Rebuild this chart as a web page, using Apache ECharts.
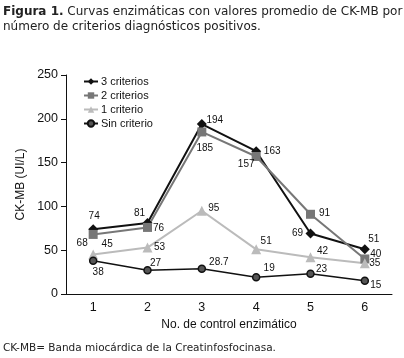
<!DOCTYPE html>
<html lang="es">
<head>
    <meta charset="UTF-8">
    <title>Curvas enzimáticas CK-MB</title>
</head>
<body style="margin:0;background:#fff;">
    <div id="main" style="width:404px;height:358px;"></div>
</body>
<script src="https://cdn.jsdelivr.net/npm/echarts@6/dist/echarts.min.js"></script>
<script>
    var main = echarts.init(document.getElementById('main'));

    // datos
    var controles = ['1', '2', '3', '4', '5', '6'];
    var tresCriterios = [74, 81, 194, 163, 69, 51];
    var dosCriterios = [68, 76, 185, 157, 91, 40];
    var unCriterio = [45, 53, 95, 51, 42, 35];
    var sinCriterio = [38, 27, 28.7, 19, 23, 15];

    // desplazamiento de cada etiqueta respecto al punto (px)
    var offTres = [[1, -13], [-8, -10], [13, -4], [16, 0], [-13, 0], [9, -10]];
    var offDos = [[-11, 9], [11, 1], [3, 16], [-10, 8], [14, -1], [11, -5]];
    var offUno = [[14, -10], [12, 0], [12, -3], [10, -8], [12, -6], [10, 0]];
    var offSin = [[5, 12], [8, -7], [17, -7], [13, -9], [11, -5], [11, 4]];

    var sans = "'Liberation Sans', Arial, sans-serif";

    function conEtiquetas(vals, offs) {
        return vals.map(function (v, i) {
            return {
                value: v,
                label: { offset: offs[i] }
            };
        });
    }

    function serie(name, vals, offs, color, symbol, size, width, fill) {
        return {
            name: name,
            type: 'line',
            data: conEtiquetas(vals, offs),
            symbol: symbol,
            symbolSize: size,
            lineStyle: { color: color, width: width },
            itemStyle: { color: fill || color, borderColor: color, borderWidth: fill ? 1.5 : 0 },
            label: {
                show: true,
                position: 'inside',
                color: '#111',
                fontFamily: sans,
                fontSize: 10
            },
            emphasis: { disabled: true },
            animation: false
        };
    }

    var option = {
        backgroundColor: '#fff',
        title: [{
            text: '{b|Figura 1.} Curvas enzimáticas con valores promedio de CK-MB por\nnúmero de criterios diagnósticos positivos.',
            left: 3,
            top: 4,
            padding: 0,
            textStyle: {
                fontFamily: 'DejaVu Sans',
                fontSize: 12,
                fontWeight: 'normal',
                color: '#222',
                lineHeight: 15,
                rich: {
                    b: { fontFamily: 'DejaVu Sans', fontSize: 12, fontWeight: 'bold', color: '#222' }
                }
            }
        }, {
            text: 'CK-MB= Banda miocárdica de la Creatinfosfocinasa.',
            left: 3,
            top: 343,
            padding: 0,
            textStyle: {
                fontFamily: 'DejaVu Sans',
                fontSize: 10.5,
                fontWeight: 'normal',
                color: '#222'
            }
        }],
        legend: {
            orient: 'vertical',
            left: 78,
            top: 71,
            itemWidth: 14,
            itemHeight: 8,
            itemGap: 3,
            textStyle: { fontFamily: sans, fontSize: 11, color: '#111', padding: [0, 0, 0, -2] },
            data: ['3 criterios', '2 criterios', '1 criterio', 'Sin criterio']
        },
        grid: { left: 66, right: 12, top: 75, bottom: 64 },
        xAxis: {
            type: 'category',
            data: controles,
            boundaryGap: true,
            name: 'No. de control enzimático',
            nameLocation: 'middle',
            nameGap: 22,
            nameTextStyle: { fontFamily: sans, fontSize: 12, color: '#111' },
            axisLine: { lineStyle: { color: '#111', width: 1 } },
            axisTick: { show: false },
            axisLabel: { fontFamily: sans, fontSize: 12.5, color: '#111', margin: 7 }
        },
        yAxis: {
            type: 'value',
            min: 0,
            max: 250,
            interval: 50,
            name: 'CK-MB (UI/L)',
            nameLocation: 'middle',
            nameGap: 38,
            nameTextStyle: { fontFamily: sans, fontSize: 12, color: '#111' },
            axisLine: { show: true, lineStyle: { color: '#111', width: 1 } },
            axisTick: { show: true, length: 5, lineStyle: { color: '#111' } },
            splitLine: { show: false },
            axisLabel: { fontFamily: sans, fontSize: 12.5, color: '#111', margin: 8 }
        },
        series: [
            serie('3 criterios', tresCriterios, offTres, '#111', 'diamond', 10, 2),
            serie('2 criterios', dosCriterios, offDos, '#777', 'rect', 9, 2),
            serie('1 criterio', unCriterio, offUno, '#bbb', 'triangle', 10, 2),
            serie('Sin criterio', sinCriterio, offSin, '#111', 'circle', 7, 1.5, '#555')
        ]
    };
    main.setOption(option);
</script>
</html>
